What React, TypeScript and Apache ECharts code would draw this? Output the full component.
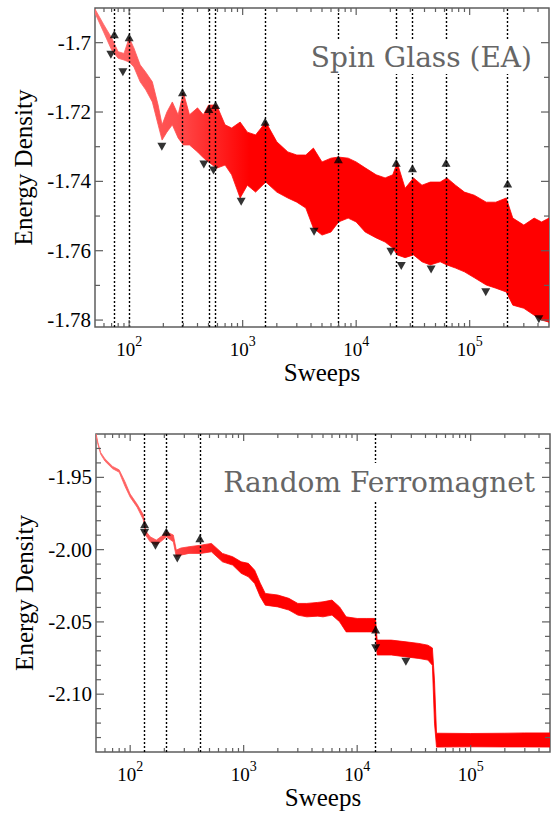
import React, { useEffect, useRef } from 'react';
import * as echarts from 'echarts';

// ---------- Spin Glass (EA) : band of the noisy energy trace ----------
const topX = [50, 60, 70, 80, 90, 100, 110, 125, 140, 160, 180, 195, 215, 240, 270, 300, 340, 400, 450, 500, 590, 700, 800, 950, 1100, 1300, 1600, 2000, 2500, 3000, 3600, 4200, 5000, 6000, 7000, 8500, 10000, 12000, 15000, 18000, 21000, 23000, 27000, 32000, 38000, 45000, 55000, 63000, 75000, 90000, 110000, 140000, 170000, 210000, 240000, 300000, 370000, 430000, 500000];
const topHi = [-1.6903, -1.6949, -1.6986, -1.7026, -1.7031, -1.6986, -1.7015, -1.7064, -1.7085, -1.7113, -1.718, -1.7237, -1.72, -1.7171, -1.7208, -1.7143, -1.7208, -1.7188, -1.7208, -1.718, -1.718, -1.7237, -1.7246, -1.7229, -1.7258, -1.7266, -1.7229, -1.7286, -1.7315, -1.7324, -1.7324, -1.7304, -1.7344, -1.7333, -1.733, -1.7333, -1.7344, -1.7361, -1.7381, -1.739, -1.7381, -1.7346, -1.742, -1.739, -1.7411, -1.7402, -1.7402, -1.739, -1.7411, -1.7431, -1.744, -1.746, -1.746, -1.7448, -1.7506, -1.7526, -1.7506, -1.7517, -1.7506];
const topLo = [-1.6915, -1.6972, -1.7021, -1.7045, -1.705, -1.7056, -1.707, -1.7113, -1.7136, -1.7171, -1.7237, -1.7281, -1.7258, -1.7237, -1.7275, -1.7295, -1.7295, -1.7315, -1.7332, -1.7344, -1.7362, -1.7353, -1.7381, -1.7448, -1.7411, -1.7431, -1.7402, -1.7431, -1.7448, -1.746, -1.7477, -1.7535, -1.7555, -1.7546, -1.7517, -1.7506, -1.7517, -1.7546, -1.7563, -1.7575, -1.7592, -1.7612, -1.762, -1.7612, -1.7632, -1.7641, -1.7632, -1.7641, -1.765, -1.7661, -1.7678, -1.7699, -1.7708, -1.7719, -1.7757, -1.7766, -1.7786, -1.78, -1.7806];
const topUpX = [74, 100, 295, 504, 577, 1578, 6966, 22540, 31330, 61900, 216000];
const topUpY = [-1.6976, -1.6984, -1.7143, -1.7191, -1.718, -1.7228, -1.7336, -1.7346, -1.7362, -1.7346, -1.7406];
const topDownX = [69, 88, 194, 455, 553, 970, 4257, 20230, 24950, 45700, 138600, 407000];
const topDownY = [-1.7035, -1.7085, -1.73, -1.7351, -1.7369, -1.7459, -1.7545, -1.7603, -1.7644, -1.7654, -1.772, -1.7798];
const topLinesX = [74, 100, 295, 504, 577, 1578, 6966, 22540, 31330, 61900, 216000];

// ---------- Random Ferromagnet ----------
const botX = [50, 52, 55, 60, 70, 80, 90, 100, 115, 130, 134, 137, 150, 170, 190, 208, 240, 255, 280, 330, 420, 520, 650, 800, 950, 1100, 1250, 1400, 1550, 2000, 2500, 3000, 3600, 4500, 5000, 6000, 7000, 8000, 10000, 12000, 14500, 15000, 20000, 27000, 35000, 42000, 46000, 48000, 50000, 100000, 200000, 300000, 500000];
const botHi = [-1.9196, -1.926, -1.9328, -1.9372, -1.9424, -1.9448, -1.953, -1.9615, -1.9685, -1.9755, -1.98, -1.987, -1.9911, -1.9934, -1.9906, -1.9876, -1.9899, -2.0003, -1.9989, -1.998, -1.9969, -1.9957, -2.0026, -2.0049, -2.0084, -2.0095, -2.0142, -2.0232, -2.0303, -2.0314, -2.0337, -2.0372, -2.0372, -2.0365, -2.0361, -2.0349, -2.0396, -2.0465, -2.0476, -2.0476, -2.0476, -2.0626, -2.0626, -2.0638, -2.0649, -2.0661, -2.068, -2.0903, -2.127, -2.1272, -2.127, -2.1268, -2.1268];
const botLo = [-1.9206, -1.9272, -1.934, -1.9388, -1.944, -1.9464, -1.9562, -1.9637, -1.9706, -1.979, -1.9835, -1.99, -1.9946, -1.9968, -1.9939, -1.9911, -1.9946, -2.0049, -2.0038, -2.0026, -2.0026, -2.0015, -2.0084, -2.0107, -2.0164, -2.0188, -2.0234, -2.0326, -2.0384, -2.0396, -2.0418, -2.0453, -2.0465, -2.046, -2.0465, -2.0453, -2.0499, -2.0569, -2.0569, -2.0569, -2.0569, -2.0729, -2.0729, -2.0742, -2.0753, -2.0764, -2.08, -2.12, -2.1366, -2.1364, -2.1365, -2.1365, -2.1366];
const botUpX = [134, 208, 411, 14550];
const botUpY = [-1.9825, -1.9876, -1.9922, -2.0552];
const botDownX = [134, 167, 260, 14550, 26860];
const botDownY = [-1.9885, -1.9973, -2.0061, -2.0683, -2.0776];
const botLinesX = [134, 208, 411, 14550];

// ---------- axes ----------
const xMajor = [100, 1000, 10000, 100000];
const xMinor = [60, 70, 80, 90, 200, 300, 400, 500, 600, 700, 800, 900, 2000, 3000, 4000, 5000, 6000, 7000, 8000, 9000, 20000, 30000, 40000, 50000, 60000, 70000, 80000, 90000, 200000, 300000, 400000];
const yTopMajor = [-1.78, -1.76, -1.74, -1.72, -1.7];
const yTopMinor = [-1.77, -1.75, -1.73, -1.71];
const yBotMajor = [-2.1, -2.05, -2.0, -1.95];
const yBotMinor = [-2.13, -2.12, -2.11, -2.09, -2.08, -2.07, -2.06, -2.04, -2.03, -2.02, -2.01, -1.99, -1.98, -1.97, -1.96, -1.94, -1.93];

const AXFONT = 'Liberation Serif';
const TFONT = '"DejaVu Serif"';
const RED = '#ff0000';
const FRAME = '#5e5e5e';

const near = (v: number, list: number[], tol: number) => list.some((t) => Math.abs(v - t) < tol);

function tickData(yMajor: number[], yMinor: number[], yMid: number) {
  const d: number[][] = [];
  xMajor.forEach((v) => d.push([v, yMid, 0]));
  xMinor.forEach((v) => d.push([v, yMid, 1]));
  yMajor.forEach((v) => d.push([1000, v, 2]));
  yMinor.forEach((v) => d.push([1000, v, 3]));
  return d;
}

function renderTick(params: any, api: any) {
  const cs = params.coordSys;
  const kind = api.value(2);
  const p = api.coord([api.value(0), api.value(1)]);
  const st = { stroke: FRAME, lineWidth: 1.2 };
  if (kind < 2) {
    const L = kind === 0 ? 7 : 4;
    const x = p[0];
    return {
      type: 'group',
      children: [
        { type: 'line', shape: { x1: x, y1: cs.y + cs.height, x2: x, y2: cs.y + cs.height - L }, style: st },
        { type: 'line', shape: { x1: x, y1: cs.y, x2: x, y2: cs.y + L }, style: st },
      ],
    };
  }
  const L = kind === 2 ? 8 : 5;
  const y = p[1];
  return {
    type: 'group',
    children: [
      { type: 'line', shape: { x1: cs.x, y1: y, x2: cs.x + L, y2: y }, style: st },
      { type: 'line', shape: { x1: cs.x + cs.width, y1: y, x2: cs.x + cs.width - L, y2: y }, style: st },
    ],
  };
}

function xAxisCfg(gridIndex: number) {
  return {
    type: 'log',
    gridIndex,
    logBase: 10,
    min: 50,
    max: 500000,
    axisLine: { show: false },
    axisTick: { show: false },
    splitLine: { show: false },
    name: 'Sweeps',
    nameLocation: 'middle',
    nameGap: 33,
    nameTextStyle: { fontFamily: AXFONT, fontSize: 25, color: '#000' },
    axisLabel: {
      margin: 7,
      formatter: (v: number) => {
        if (!near(v, xMajor, v * 1e-6)) return '';
        const n = Math.round(Math.log10(v));
        return `{b|10}{s|${n}}`;
      },
      rich: {
        b: { fontFamily: AXFONT, fontSize: 19, color: '#000', lineHeight: 30 },
        s: { fontFamily: AXFONT, fontSize: 14, color: '#000', lineHeight: 10, verticalAlign: 'top' },
      },
    },
  };
}

function bandSeries(xs: number[], lo: number[], hi: number[], idx: number, stops: { offset: number; color: string }[]) {
  return {
    type: 'custom',
    xAxisIndex: idx,
    yAxisIndex: idx,
    silent: true,
    clip: true,
    z: 2,
    encode: { x: 0, y: 1 },
    data: xs.map((x, i) => [x, lo[i], hi[i]]),
    renderItem: (params: any, api: any) => {
      if (params.dataIndex !== 0) return null;
      const pts: number[][] = [];
      xs.forEach((x, i) => pts.push(api.coord([x, hi[i]])));
      for (let i = xs.length - 1; i >= 0; i--) pts.push(api.coord([xs[i], lo[i]]));
      const grad = new echarts.graphic.LinearGradient(0, 0, 1, 0, stops);
      return {
        type: 'polygon',
        shape: { points: pts },
        style: { fill: grad, stroke: grad, lineWidth: 0.8 },
      };
    },
  };
}

function markerSeries(ux: number[], uy: number[], dx: number[], dy: number[], lines: number[], idx: number) {
  return [
    {
      type: 'scatter',
      xAxisIndex: idx,
      yAxisIndex: idx,
      symbol: 'triangle',
      symbolSize: [9, 8],
      itemStyle: { color: '#000' },
      silent: true,
      data: ux.map((x, i) => [x, uy[i]]),
      z: 6,
      markLine: {
        silent: true,
        symbol: ['none', 'none'],
        label: { show: false },
        lineStyle: { color: '#000', type: [2, 2], width: 1.4 },
        data: lines.map((v) => ({ xAxis: v })),
        z: 5,
      },
    },
    {
      type: 'scatter',
      xAxisIndex: idx,
      yAxisIndex: idx,
      symbol: 'triangle',
      symbolRotate: 180,
      symbolSize: [9, 8],
      itemStyle: { color: '#000' },
      silent: true,
      data: dx.map((x, i) => [x, dy[i]]),
      z: 6,
    },
  ];
}

function yAxisCfg(gridIndex: number, min: number, max: number, interval: number, fmt: (v: number) => string) {
  return {
    type: 'value',
    gridIndex,
    min,
    max,
    interval,
    axisLine: { show: false },
    axisTick: { show: false },
    splitLine: { show: false },
    name: 'Energy Density',
    nameLocation: 'middle',
    nameGap: 57,
    nameTextStyle: { fontFamily: AXFONT, fontSize: 25, color: '#000' },
    axisLabel: { margin: 4, fontFamily: AXFONT, fontSize: 21, color: '#000', formatter: fmt },
  };
}

export default function App() {
  const ref = useRef<HTMLDivElement>(null);
  useEffect(() => {
    if (!ref.current) return;
    const chart = echarts.init(ref.current, undefined, { renderer: 'svg' });
    const option: any = {
      animation: false,
      backgroundColor: '#fff',
      textStyle: { fontFamily: AXFONT },
      grid: [
        { left: 95, top: 8, right: 2, bottom: 486, show: true, borderColor: FRAME, borderWidth: 1.5, outerBoundsMode: 'none' },
        { left: 96, top: 434, right: 1, bottom: 61, show: true, borderColor: FRAME, borderWidth: 1.5, outerBoundsMode: 'none' },
      ],
      xAxis: [xAxisCfg(0), xAxisCfg(1)],
      yAxis: [
        yAxisCfg(0, -1.782, -1.69, 0.002, (v: number) => (near(v, yTopMajor, 1e-5) ? String(Number(v.toFixed(2))) : '')),
        yAxisCfg(1, -2.14, -1.92, 0.01, (v: number) => (near(v, yBotMajor, 1e-5) ? v.toFixed(2) : '')),
      ],
      series: [
        bandSeries(topX, topLo, topHi, 0, [
          { offset: 0, color: '#ff6b6b' },
          { offset: 0.18, color: '#ff4d4d' },
          { offset: 0.34, color: '#ff0000' },
          { offset: 1, color: '#ff0000' },
        ]),
        bandSeries(botX, botLo, botHi, 1, [
          { offset: 0, color: '#ff6b6b' },
          { offset: 0.16, color: '#ff5050' },
          { offset: 0.3, color: '#ff0000' },
          { offset: 1, color: '#ff0000' },
        ]),
        ...markerSeries(topUpX, topUpY, topDownX, topDownY, topLinesX, 0),
        ...markerSeries(botUpX, botUpY, botDownX, botDownY, botLinesX, 1),
        {
          type: 'custom',
          xAxisIndex: 0,
          yAxisIndex: 0,
          silent: true,
          clip: false,
          z: 8,
          encode: { x: 0, y: 1 },
          data: tickData(yTopMajor, yTopMinor, -1.75),
          renderItem: renderTick,
        },
        {
          type: 'custom',
          xAxisIndex: 1,
          yAxisIndex: 1,
          silent: true,
          clip: false,
          z: 8,
          encode: { x: 0, y: 1 },
          data: tickData(yBotMajor, yBotMinor, -2.0),
          renderItem: renderTick,
        },
      ],
      graphic: [
        {
          type: 'text',
          right: 16,
          top: 40,
          z: 100,
          style: {
            text: 'Spin Glass (EA)',
            font: `28px ${TFONT}`,
            fill: '#666',
            backgroundColor: '#fff',
            padding: [3, 3, 3, 3],
          },
        },
        {
          type: 'text',
          right: 13,
          top: 463,
          z: 100,
          style: {
            text: 'Random Ferromagnet',
            font: `28px ${TFONT}`,
            fill: '#666',
            backgroundColor: '#fff',
            padding: [5, 3, 5, 3],
          },
        },
      ],
    };
    chart.setOption(option);
    return () => chart.dispose();
  }, []);
  return <div ref={ref} style={{ position: 'fixed', left: 0, top: 0, width: 551, height: 813 }} />;
}
